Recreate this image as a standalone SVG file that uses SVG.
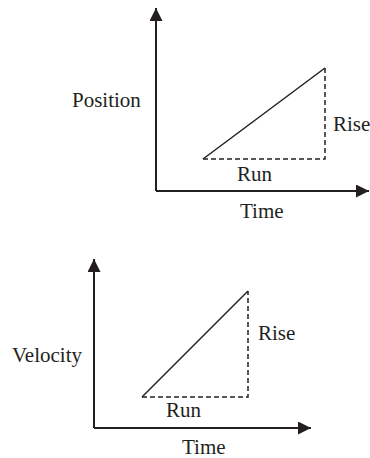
<svg xmlns="http://www.w3.org/2000/svg" width="370" height="458" viewBox="0 0 370 458">
<style>
.ax{stroke:#231f20;stroke-width:2;fill:none}
.ln{stroke:#231f20;stroke-width:1.5;fill:none}
.ds{stroke:#231f20;stroke-width:1.5;fill:none;stroke-dasharray:5,3}
</style>
<defs>
<marker id="ah" markerWidth="6.5" markerHeight="6.5" refX="6.5" refY="3.25" orient="auto" markerUnits="strokeWidth" viewBox="0 0 6.5 6.5">
<path d="M0,0 L6.5,3.25 L0,6.5 Z" fill="#231f20"/>
</marker>
</defs>
<g id="connectors">
<path class="ax" d="M156,191 L156,8" marker-end="url(#ah)"/>
<path class="ax" d="M156,191 L369,191" marker-end="url(#ah)"/>
<path class="ln" d="M203,159 L325,68"/>
<path class="ds" d="M203,159 L325,159 L325,68"/>
<path class="ax" d="M94,428 L94,259" marker-end="url(#ah)"/>
<path class="ax" d="M94,428 L311,428" marker-end="url(#ah)"/>
<path class="ln" d="M142,397 L248,291"/>
<path class="ds" d="M142,397 L248,397 L248,291"/>
</g>
<g id="top-labels" font-family="Liberation Serif, Times New Roman, serif" font-size="21" fill="#231f20">
<text x="72" y="107">Position</text>
<text x="333" y="131">Rise</text>
<text x="237" y="181">Run</text>
<text x="240" y="218">Time</text>
</g>
<g id="bottom-labels" font-family="Liberation Serif, Times New Roman, serif" font-size="21" fill="#231f20">
<text x="12" y="362">Velocity</text>
<text x="258" y="340">Rise</text>
<text x="166" y="417">Run</text>
<text x="182" y="454">Time</text>
</g>
</svg>
